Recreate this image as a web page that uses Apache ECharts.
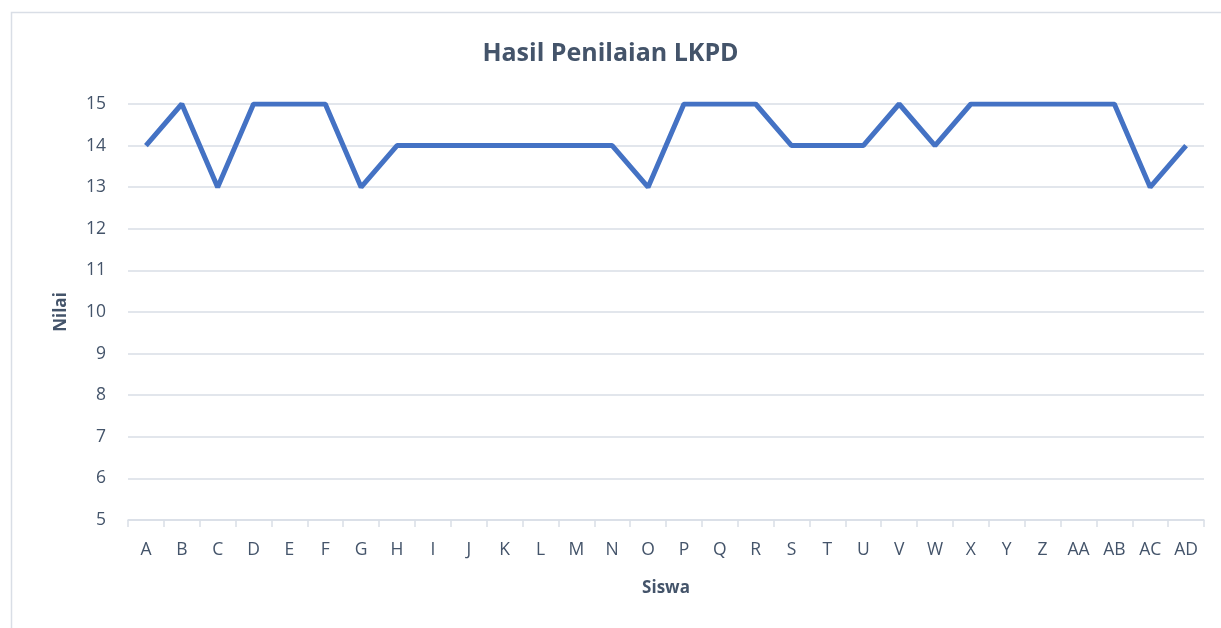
<!DOCTYPE html>
<html><head><meta charset="utf-8">
<script src="https://cdn.jsdelivr.net/npm/echarts@6/dist/echarts.min.js"></script>
<style>html,body{margin:0;padding:0;background:#fff;}#c{width:1221px;height:628px;}</style>
</head><body><div id="c"></div>
<script>
const categories = ['A','B','C','D','E','F','G','H','I','J','K','L','M','N','O','P','Q','R','S','T','U','V','W','X','Y','Z','AA','AB','AC','AD'];
const nilai = [14,15,13,15,15,15,13,14,14,14,14,14,14,14,13,15,15,15,14,14,14,15,14,15,15,15,15,15,13,14];
const yTicks = {min:5, max:15, interval:1};

const txt = '#44546A';
const chart = echarts.init(document.getElementById('c'));
chart.setOption({
  animation:false,
  textStyle:{fontFamily:'Open Sans'},
  graphic:[{type:'rect',shape:{x:11.5,y:12.5,width:1240,height:640},style:{fill:'none',stroke:'#D9DEE6',lineWidth:1.5},silent:true}],
  title:{text:'Hasil Penilaian LKPD',left:'center',top:36,textStyle:{color:txt,fontSize:25,fontWeight:'bold',fontFamily:'Open Sans'}},
  grid:{left:128,right:17,top:104,bottom:108},
  xAxis:{type:'category',data:categories,boundaryGap:true,
    name:'Siswa',nameLocation:'middle',nameGap:60,
    nameTextStyle:{color:txt,fontSize:17,fontWeight:'bold'},
    axisLine:{lineStyle:{color:'#D9DEE6',width:1.5}},
    axisTick:{show:true,length:7,lineStyle:{color:'#D9DEE6',width:1.5}},
    axisLabel:{color:txt,fontSize:17.5,margin:21,interval:0}},
  yAxis:{type:'value',min:yTicks.min,max:yTicks.max,interval:yTicks.interval,
    name:'Nilai',nameLocation:'middle',nameGap:58,
    nameTextStyle:{color:txt,fontSize:17,fontWeight:'bold'},
    axisLine:{show:false},axisTick:{show:false},
    axisLabel:{color:txt,fontSize:17.5,margin:22},
    splitLine:{lineStyle:{color:'#D9DEE6',width:1.5}}},
  series:[{type:'line',data:nilai,symbol:'none',lineStyle:{color:'#4472C4',width:5},itemStyle:{color:'#4472C4'}}]
});
</script></body></html>
